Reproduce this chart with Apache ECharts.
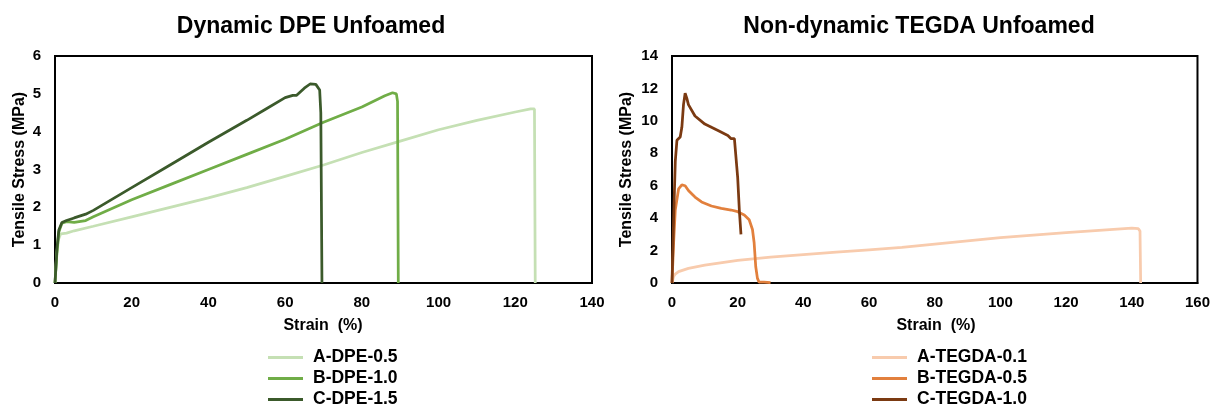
<!DOCTYPE html>
<html>
<head>
<meta charset="utf-8">
<script src="https://cdn.jsdelivr.net/npm/echarts@6/dist/echarts.min.js"></script>
<style>
  html, body { margin: 0; padding: 0; background: #fff; }
  #chart { width: 1213px; height: 406px; }
</style>
</head>
<body>
<div id="chart"></div>
<script>
// Stress–strain curves, [strain %, stress MPa]
const dpeNames = ['A-DPE-0.5', 'B-DPE-1.0', 'C-DPE-1.5'];
const tegdaNames = ['A-TEGDA-0.1', 'B-TEGDA-0.5', 'C-TEGDA-1.0'];

const dpe05 = [[0,0],[0.4,0.7],[0.9,1.15],[1.5,1.3],[3,1.32],[5,1.38],[10,1.5],[20,1.75],[30,2.0],[40,2.25],[50,2.52],[60,2.82],[70,3.12],[80,3.45],[90,3.75],[100,4.05],[110,4.3],[120,4.52],[124,4.6],[125,4.6],[125.2,0]];
const dpe10 = [[0,0],[0.5,0.8],[1,1.35],[1.8,1.58],[3,1.62],[5,1.6],[8,1.65],[10,1.75],[20,2.2],[30,2.6],[40,3.0],[50,3.4],[60,3.8],[70,4.25],[80,4.65],[86,4.95],[88,5.03],[89,5.0],[89.3,4.8],[89.5,0]];
const dpe15 = [[0,0],[0.5,0.9],[1,1.4],[1.8,1.6],[3,1.65],[5,1.72],[8,1.82],[10,1.92],[20,2.52],[30,3.12],[40,3.72],[50,4.3],[55,4.6],[60,4.9],[62,4.96],[63,4.96],[65,5.15],[66.5,5.26],[68,5.25],[69,5.1],[69.3,4.5],[69.6,0]];

const tegda01 = [[0,0],[0.5,0.4],[1,0.55],[2,0.7],[5,0.9],[10,1.1],[20,1.4],[30,1.6],[40,1.75],[50,1.9],[60,2.05],[70,2.2],[80,2.4],[90,2.6],[100,2.8],[110,2.95],[120,3.1],[130,3.25],[140,3.38],[142,3.35],[142.5,3.2],[142.7,0]];
const tegda05 = [[0,0],[0.5,2.5],[1,4.5],[2,5.8],[3,6.05],[4,6.0],[5,5.7],[7,5.3],[9,5.0],[12,4.75],[15,4.6],[18,4.5],[20,4.4],[22,4.2],[23.5,3.9],[24.5,3.3],[25,2.5],[25.5,1.0],[26,0.3],[26.5,0.05],[28,0.05],[30,0.02]];
const tegda10 = [[0,0],[0.5,4],[1,7.5],[1.5,8.8],[2.5,9.0],[3,9.6],[3.5,11],[4,11.7],[4.5,11.4],[5,11],[7,10.3],[10,9.8],[14,9.4],[17,9.1],[18,8.9],[19,8.9],[20,6.5],[20.5,4.5],[21,3.0]];

const dpeColors = ['#c5e0b4', '#70ad47', '#3b5a2b'];
const tegdaColors = ['#f8cbad', '#e2803d', '#7b3a12'];

const font = 'Liberation Sans, Arial, sans-serif';
const tickStyle = { fontFamily: font, fontWeight: 'bold', fontSize: 15, color: '#000' };

function xAxis(gridIndex, max) {
  return {
    type: 'value', gridIndex, min: 0, max, interval: 20,
    axisLine: { lineStyle: { color: '#000', width: 2 } },
    axisTick: { show: false }, splitLine: { show: false },
    axisLabel: Object.assign({ margin: 12 }, tickStyle)
  };
}
function yAxis(gridIndex, max, interval, gap) {
  return {
    type: 'value', gridIndex, min: 0, max, interval,
    name: 'Tensile Stress (MPa)', nameLocation: 'middle', nameGap: gap,
    nameTextStyle: { fontFamily: font, fontWeight: 'bold', fontSize: 16, color: '#000' },
    axisLine: { show: true, lineStyle: { color: '#000', width: 2 } },
    axisTick: { show: false }, splitLine: { show: false },
    axisLabel: Object.assign({ margin: 14 }, tickStyle)
  };
}
function line(name, data, color, idx) {
  return {
    name, type: 'line', data, xAxisIndex: idx, yAxisIndex: idx,
    symbol: 'none', smooth: false,
    lineStyle: { color, width: 2.75 }, itemStyle: { color }
  };
}
function legend(names, left) {
  return {
    data: names, orient: 'vertical', left, top: 343, height: 120,
    icon: 'rect', itemWidth: 35, itemHeight: 3, itemGap: 2,
    textStyle: { fontFamily: font, fontWeight: 'bold', fontSize: 17.5, lineHeight: 19, color: '#000', padding: [0, 0, 0, 5] }
  };
}
const titleStyle = { fontFamily: font, fontWeight: 'bold', fontSize: 23, color: '#000' };
const nameStyle = { fontFamily: font, fontWeight: 'bold', fontSize: 16, fill: '#000', textAlign: 'center', textVerticalAlign: 'middle' };

const chart = echarts.init(document.getElementById('chart'), null, { renderer: 'canvas' });
chart.setOption({
  backgroundColor: '#fff',
  animation: false,
  title: [
    { text: 'Dynamic DPE Unfoamed', left: 306, top: 10, textAlign: 'center', textStyle: titleStyle },
    { text: 'Non-dynamic TEGDA Unfoamed', left: 914, top: 10, textAlign: 'center', textStyle: titleStyle }
  ],
  grid: [
    { left: 55, right: 621, top: 56, bottom: 123, show: true, borderColor: '#000', borderWidth: 2 },
    { left: 672, right: 12, top: 56, bottom: 123, show: true, borderColor: '#000', borderWidth: 2 }
  ],
  xAxis: [xAxis(0, 140), xAxis(1, 160)],
  yAxis: [yAxis(0, 6, 1, 27), yAxis(1, 14, 2, 37)],
  legend: [legend(dpeNames, 263), legend(tegdaNames, 867)],
  graphic: [
    { type: 'text', x: 323, y: 326, style: Object.assign({ text: 'Strain  (%)' }, nameStyle) },
    { type: 'text', x: 936, y: 326, style: Object.assign({ text: 'Strain  (%)' }, nameStyle) }
  ],
  series: [
    line(dpeNames[0], dpe05, dpeColors[0], 0),
    line(dpeNames[1], dpe10, dpeColors[1], 0),
    line(dpeNames[2], dpe15, dpeColors[2], 0),
    line(tegdaNames[0], tegda01, tegdaColors[0], 1),
    line(tegdaNames[1], tegda05, tegdaColors[1], 1),
    line(tegdaNames[2], tegda10, tegdaColors[2], 1)
  ]
});
</script>
</body>
</html>
